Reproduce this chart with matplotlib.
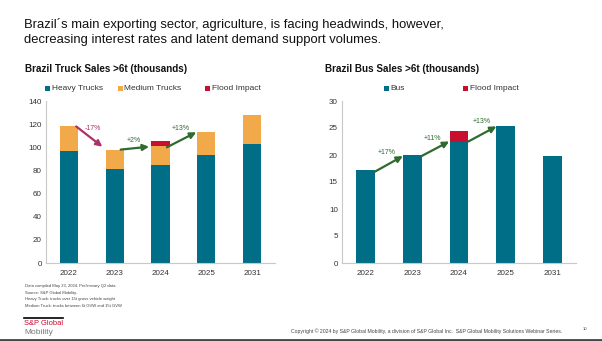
import matplotlib
matplotlib.use("Agg")
import matplotlib.pyplot as plt
from matplotlib.patches import Rectangle

plt.rcParams['font.family'] = ['Liberation Sans', 'DejaVu Sans']

years = ["2022", "2023", "2024", "2025", "2031"]
heavy_trucks = [97, 81, 85, 93, 103]
medium_trucks = [21, 17, 16, 20, 25]
truck_flood = [0, 0, 4.5, 0, 0]
bus = [17.3, 20.0, 22.5, 25.3, 19.9]
bus_flood = [0, 0, 2.0, 0, 0]
truck_ticks = [0, 20, 40, 60, 80, 100, 120, 140]
bus_ticks = [0, 5, 10, 15, 20, 25, 30]
truck_changes = ["-17%", "+2%", "+13%"]
bus_changes = ["+17%", "+11%", "+13%"]

TEAL = "#006E87"
ORANGE = "#F2A94A"
RED = "#C8102E"
GREEN = "#2E6B2E"
PINK = "#B0306A"

fig = plt.figure(figsize=(6.02, 3.41), dpi=100)
W, H = 602, 341

def axrect(x0, x1, y0, y1):
    return [x0 / W, 1 - y1 / H, (x1 - x0) / W, (y1 - y0) / H]

ax1 = fig.add_axes(axrect(46, 275, 101, 263))
ax2 = fig.add_axes(axrect(342, 576, 101, 263))

x = list(range(len(years)))
bw = 0.4
ax1.bar(x, heavy_trucks, bw, color=TEAL)
ax1.bar(x, medium_trucks, bw, bottom=heavy_trucks, color=ORANGE)
tb = [h + m for h, m in zip(heavy_trucks, medium_trucks)]
ax1.bar(x, truck_flood, bw, bottom=tb, color=RED)

ax2.bar(x, bus, bw, color=TEAL)
ax2.bar(x, bus_flood, bw, bottom=bus, color=RED)

for ax, ticks in ((ax1, truck_ticks), (ax2, bus_ticks)):
    ax.set_xlim(-0.5, 4.5)
    ax.set_ylim(ticks[0], ticks[-1])
    ax.set_yticks(ticks)
    ax.set_xticks(x)
    ax.set_xticklabels(years)
    ax.tick_params(axis='y', length=0, labelsize=5.8, colors="#333333", pad=3)
    ax.tick_params(axis='x', length=0, labelsize=5.8, colors="#333333", pad=5)
    for s in ("top", "right"):
        ax.spines[s].set_visible(False)
    for s in ("left", "bottom"):
        ax.spines[s].set_color("#C8C8C8")
        ax.spines[s].set_linewidth(0.8)

tt = [h + m + f for h, m, f in zip(heavy_trucks, medium_trucks, truck_flood)]

def arrow(ax, x0, y0, x1, y1, color):
    ax.annotate("", xy=(x1, y1), xytext=(x0, y0),
                arrowprops=dict(arrowstyle="-|>", color=color, lw=1.6,
                                mutation_scale=9, shrinkA=0, shrinkB=0))

arrow(ax1, 0.16, tt[0], 0.73, tt[1] + 2.5, PINK)
ax1.text(0.52, 116, truck_changes[0], color=PINK, fontsize=5, ha="center", va="center")
arrow(ax1, 1.13, tt[1], 1.75, heavy_trucks[2] + medium_trucks[2] - 0.5, GREEN)
ax1.text(1.42, 106, truck_changes[1], color=GREEN, fontsize=5, ha="center", va="center")
arrow(ax1, 2.14, heavy_trucks[2] + medium_trucks[2] - 1, 2.78, tt[3], GREEN)
ax1.text(2.45, 116, truck_changes[2], color=GREEN, fontsize=5, ha="center", va="center")

arrow(ax2, 0.2, bus[0] - 0.4, 0.8, bus[1] - 0.2, GREEN)
ax2.text(0.45, 20.4, bus_changes[0], color=GREEN, fontsize=5, ha="center", va="center")
arrow(ax2, 1.2, bus[1] - 0.2, 1.79, bus[2], GREEN)
ax2.text(1.44, 23.1, bus_changes[1], color=GREEN, fontsize=5, ha="center", va="center")
arrow(ax2, 2.2, bus[2], 2.8, bus[3], GREEN)
ax2.text(2.49, 26.2, bus_changes[2], color=GREEN, fontsize=5, ha="center", va="center")

# Legends (placed by pixel)
def legend_entry(px, py, color, label):
    s = 5
    fig.add_artist(Rectangle(((px - s / 2) / W, 1 - (py + s / 2) / H), s / W, s / H,
                             facecolor=color, edgecolor="none", transform=fig.transFigure))
    fig.text((px + 4.5) / W, 1 - py / H, label, fontsize=6, color="#333333",
             ha="left", va="center")

legend_entry(47, 88, TEAL, "Heavy Trucks")
legend_entry(120, 88, ORANGE, "Medium Trucks")
legend_entry(207, 88, RED, "Flood Impact")
legend_entry(386, 88, TEAL, "Bus")
legend_entry(465, 88, RED, "Flood Impact")

# Titles
fig.text(24 / W, 1 - 32 / H, "Brazil´s main exporting sector, agriculture, is facing headwinds, however,\n"
         "decreasing interest rates and latent demand support volumes.",
         fontsize=9.4, color="#111111", ha="left", va="center", linespacing=1.25)
fig.text(25 / W, 1 - 69.5 / H, "Brazil Truck Sales >6t (thousands)", fontsize=7.1,
         fontweight="bold", color="#111111", ha="left", va="center")
fig.text(325 / W, 1 - 69.5 / H, "Brazil Bus Sales >6t (thousands)", fontsize=7.1,
         fontweight="bold", color="#111111", ha="left", va="center")

# Footnotes
notes = ["Data compiled May 23, 2024. Preliminary Q2 data.",
         "Source: S&P Global Mobility.",
         "Heavy Truck: trucks over 15t gross vehicle weight",
         "Medium Truck: trucks between 6t GVW and 15t GVW"]
for i, n in enumerate(notes):
    fig.text(25 / W, 1 - (286 + i * 6.6) / H, n, fontsize=2.95, color="#444444",
             ha="left", va="center")

fig.add_artist(plt.Line2D([24 / W, 63 / W], [1 - 317.5 / H, 1 - 317.5 / H], color="black", lw=1.2))
fig.text(24 / W, 1 - 323.5 / H, "S&P Global", fontsize=5.4, color="#D6002A", ha="left", va="center")
fig.text(24 / W, 1 - 332.5 / H, "Mobility", fontsize=6, color="#777777", ha="left", va="center")
fig.text(291 / W, 1 - 331 / H,
         "Copyright © 2024 by S&P Global Mobility, a division of S&P Global Inc.  S&P Global Mobility Solutions Webinar Series.",
         fontsize=3.7, color="#444444", ha="left", va="center")
fig.text(583 / W, 1 - 329 / H, "10", fontsize=3, color="#444444", ha="left", va="center")
fig.add_artist(plt.Line2D([0, 1], [1 - 340 / H, 1 - 340 / H], color="#444444", lw=2))

fig.savefig("out.png", dpi=100)
